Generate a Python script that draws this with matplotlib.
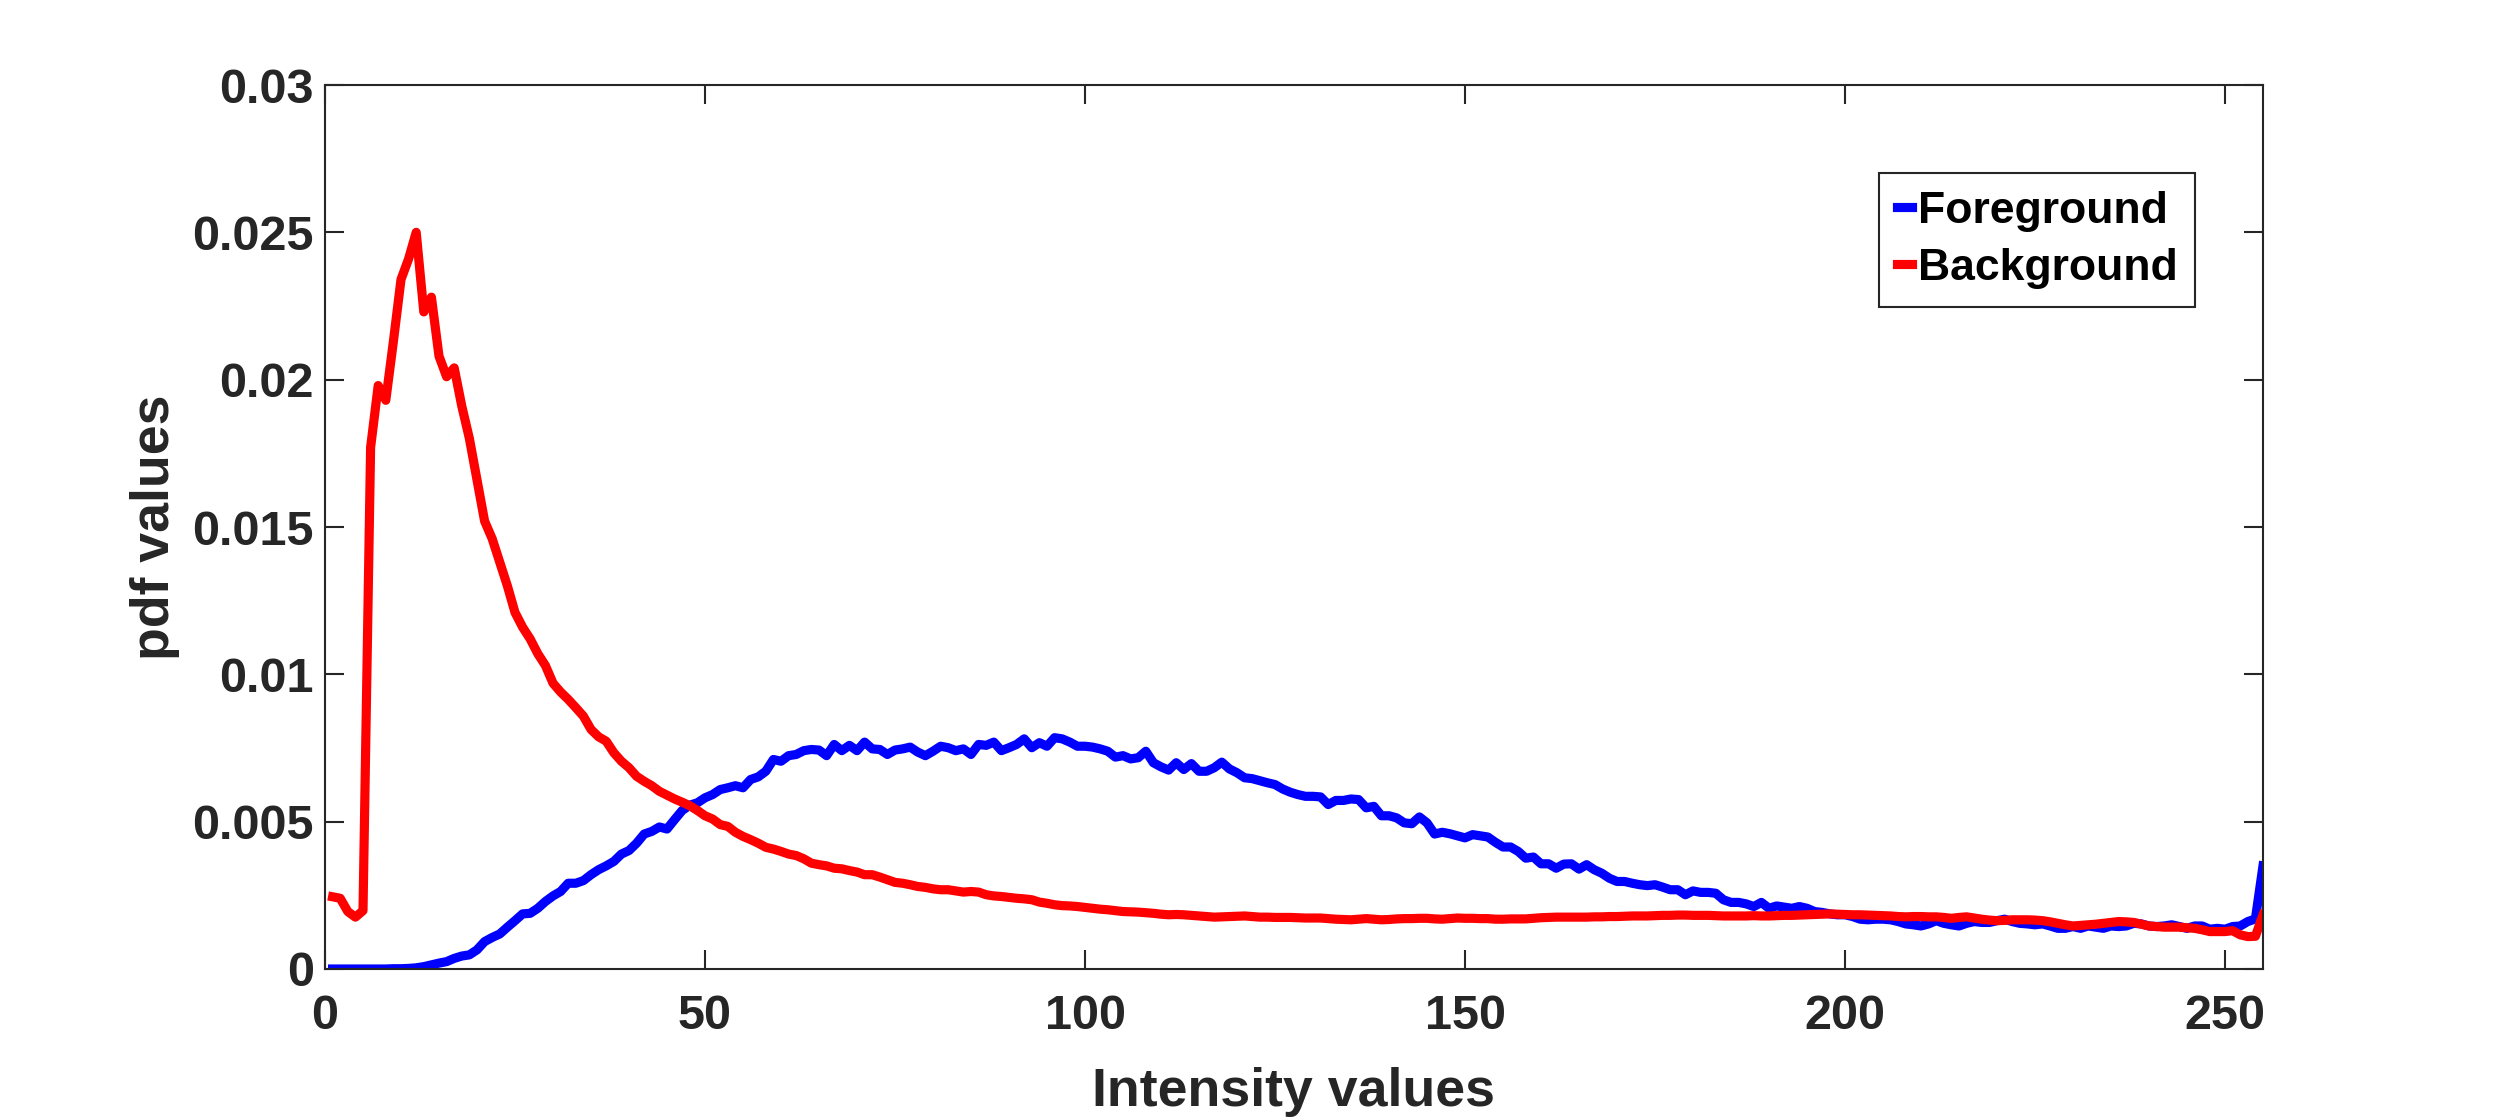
import numpy as np
import matplotlib
matplotlib.use("Agg")
import matplotlib.pyplot as plt
import matplotlib.ticker as mticker

# intensity bins
intensity = np.arange(1, 256)

foreground = [
    0, 0, 0, 0, 0, 0, 0, 0, 0.00001, 0.00001,
    0.00002, 0.00004, 0.00008, 0.00014, 0.0002, 0.00025, 0.00036, 0.00044, 0.00048, 0.00065,
    0.00093, 0.00107, 0.00119, 0.00142, 0.00164, 0.00187, 0.00189, 0.00206, 0.00229, 0.00248,
    0.00263, 0.00291, 0.00291, 0.003, 0.0032, 0.00337, 0.0035, 0.00365, 0.0039, 0.00402,
    0.00427, 0.00458, 0.00467, 0.00482, 0.00475, 0.00507, 0.00538, 0.00556, 0.00564, 0.00581,
    0.00592, 0.00609, 0.00615, 0.00622, 0.00615, 0.00643, 0.00652, 0.00671, 0.00711, 0.00705,
    0.00724, 0.00728, 0.00741, 0.00745, 0.00743, 0.00724, 0.00762, 0.00741, 0.00759, 0.00741,
    0.0077, 0.00747, 0.00745, 0.00728, 0.00743, 0.00747, 0.00753, 0.00736, 0.00724, 0.00739,
    0.00756, 0.00751, 0.00741, 0.00747, 0.00728, 0.00762, 0.00759, 0.0077, 0.00741, 0.00751,
    0.00762, 0.00781, 0.00751, 0.00768, 0.00756, 0.00785, 0.00781, 0.0077, 0.00756, 0.00756,
    0.00753, 0.00747, 0.00739, 0.00719, 0.00724, 0.00713, 0.00717, 0.00739, 0.007, 0.00686,
    0.00675, 0.007, 0.00677, 0.00697, 0.00671, 0.00671, 0.00683, 0.00702, 0.00679, 0.00666,
    0.00649, 0.00646, 0.00639, 0.00632, 0.00626, 0.00611, 0.006, 0.00592, 0.00586, 0.00586,
    0.00584, 0.00558, 0.00572, 0.00572, 0.00577, 0.00575, 0.00547, 0.00552, 0.0052, 0.0052,
    0.00513, 0.00496, 0.00493, 0.00516, 0.00496, 0.00458, 0.00464, 0.00459, 0.00452, 0.00445,
    0.00456, 0.00452, 0.00448, 0.0043, 0.00414, 0.00414, 0.00399, 0.00376, 0.0038, 0.00357,
    0.00357, 0.00342, 0.00356, 0.00357, 0.00339, 0.00354, 0.00337, 0.00325, 0.00308, 0.00297,
    0.00297, 0.00291, 0.00286, 0.00283, 0.00286, 0.00278, 0.00269, 0.00269, 0.00252, 0.00265,
    0.0026, 0.0026, 0.00257, 0.00235, 0.00226, 0.00226, 0.00221, 0.00212, 0.00226, 0.00206,
    0.00214, 0.0021, 0.00206, 0.00212, 0.00206, 0.00195, 0.00192, 0.00187, 0.00184, 0.00184,
    0.00178, 0.00169, 0.00167, 0.00169, 0.00169, 0.00167, 0.00161, 0.00153, 0.0015, 0.00146,
    0.00153, 0.00164, 0.00155, 0.0015, 0.00146, 0.00155, 0.00161, 0.00158, 0.00158, 0.00164,
    0.00169, 0.00161, 0.00155, 0.00153, 0.0015, 0.00153, 0.00146, 0.00138, 0.00138, 0.00144,
    0.00138, 0.00146, 0.00142, 0.00138, 0.00146, 0.00144, 0.00146, 0.00155, 0.00153, 0.00146,
    0.00144, 0.00146, 0.0015, 0.00144, 0.00138, 0.00146, 0.00146, 0.00135, 0.00138, 0.00135,
    0.00144, 0.00146, 0.00161, 0.0017, 0.0035,
]

background = [
    0.00245, 0.0024, 0.00195, 0.00176, 0.00198, 0.0177, 0.0198, 0.0193, 0.0213, 0.0234,
    0.0241, 0.0250, 0.0223, 0.0228, 0.0208, 0.0201, 0.0204, 0.0191, 0.0180, 0.0166,
    0.0152, 0.0146, 0.0138, 0.0130, 0.0121, 0.0116, 0.0112, 0.0107, 0.0103, 0.0097,
    0.0094, 0.00915, 0.00887, 0.00858, 0.00813, 0.00788, 0.00773, 0.00734, 0.00705, 0.00683,
    0.00654, 0.00637, 0.00622, 0.00603, 0.0059, 0.00577, 0.00566, 0.00554, 0.00538, 0.0052,
    0.00509, 0.0049, 0.00484, 0.00464, 0.0045, 0.00439, 0.00427, 0.00413, 0.00407, 0.00399,
    0.0039, 0.00385, 0.00374, 0.00359, 0.00354, 0.0035, 0.00342, 0.0034, 0.00334, 0.00329,
    0.0032, 0.0032, 0.00312, 0.00303, 0.00294, 0.00291, 0.00286, 0.0028, 0.00277, 0.00272,
    0.00269, 0.00269, 0.00265, 0.00261, 0.00263, 0.00261, 0.00252, 0.00248, 0.00246, 0.00243,
    0.0024, 0.00238, 0.00235, 0.00227, 0.00223, 0.00218, 0.00215, 0.00214, 0.00212, 0.00209,
    0.00206, 0.00203, 0.00201, 0.00198, 0.00195, 0.00194, 0.00193, 0.00191, 0.00189, 0.00186,
    0.00184, 0.00185, 0.00184, 0.00182, 0.0018, 0.00178, 0.00176, 0.00177, 0.00178, 0.00179,
    0.0018, 0.00178, 0.00176, 0.00176, 0.00175, 0.00175, 0.00175, 0.00174, 0.00173, 0.00173,
    0.00173, 0.00171, 0.00169, 0.00168, 0.00167, 0.00169, 0.00171, 0.00169, 0.00167, 0.00168,
    0.0017, 0.00171, 0.00171, 0.00172, 0.00172, 0.0017, 0.00169, 0.00171, 0.00173, 0.00172,
    0.00172, 0.00171, 0.00171, 0.00169, 0.00169, 0.0017, 0.0017, 0.0017, 0.00172, 0.00174,
    0.00175, 0.00176, 0.00176, 0.00176, 0.00176, 0.00176, 0.00177, 0.00177, 0.00178, 0.00178,
    0.00179, 0.0018, 0.0018, 0.0018, 0.00181, 0.00182, 0.00182, 0.00183, 0.00183, 0.00182,
    0.00182, 0.00182, 0.00181, 0.0018, 0.0018, 0.0018, 0.0018, 0.00181, 0.0018, 0.0018,
    0.00181, 0.00182, 0.00182, 0.00183, 0.00184, 0.00185, 0.00186, 0.00187, 0.00186, 0.00185,
    0.00184, 0.00184, 0.00183, 0.00182, 0.00181, 0.0018, 0.00178, 0.00177, 0.00178, 0.00178,
    0.00177, 0.00177, 0.00175, 0.00172, 0.00175, 0.00177, 0.00173, 0.00169, 0.00166, 0.00164,
    0.00165, 0.00167, 0.00167, 0.00167, 0.00166, 0.00164, 0.0016, 0.00155, 0.0015, 0.00146,
    0.00148, 0.0015, 0.00152, 0.00155, 0.00158, 0.00161, 0.0016, 0.00158, 0.00152, 0.00146,
    0.00144, 0.00142, 0.00142, 0.00142, 0.0014, 0.00138, 0.00133, 0.00127, 0.00127, 0.00127,
    0.0013, 0.00116, 0.0011, 0.00111, 0.00184,
]

x_ticks = [0, 50, 100, 150, 200, 250]
y_ticks = [0, 0.005, 0.01, 0.015, 0.02, 0.025, 0.03]

plt.rcParams.update({
    "font.family": ["Liberation Sans", "DejaVu Sans"],
    "font.weight": "bold",
    "axes.linewidth": 0.75,
    "axes.edgecolor": "#262626",
    "xtick.color": "#262626",
    "ytick.color": "#262626",
})

fig = plt.figure(figsize=(12.5, 5.585), dpi=200)
ax = fig.add_axes([0.13, 0.1325, 0.7752, 0.7914])

ax.plot(intensity, foreground, color="#0000ff", linewidth=3.3, label="Foreground")
ax.plot(intensity, background, color="#ff0000", linewidth=3.3, label="Background")

ax.set_xlim(0, 255)
ax.set_ylim(0, 0.03)
ax.set_xticks(x_ticks)
ax.set_yticks(y_ticks)
ax.yaxis.set_major_formatter(mticker.FuncFormatter(lambda v, p: "%g" % v))

ax.tick_params(direction="in", length=7, width=0.75, top=True, right=True,
               labelsize=17.5)
ax.tick_params(axis="x", pad=9)
ax.tick_params(axis="y", pad=4)
for lab in ax.get_xticklabels() + ax.get_yticklabels():
    lab.set_fontweight("bold")

ax.set_xlabel("Intensity values", fontsize=19.3, fontweight="bold", color="#262626", labelpad=10)
ax.set_ylabel("pdf values", fontsize=19.3, fontweight="bold", color="#262626", labelpad=4.5)

leg = ax.legend(loc="upper right", bbox_to_anchor=(0.965, 0.9005), fontsize=16,
                handlelength=0.35, handletextpad=0.12, borderpad=0.4, labelspacing=0.36,
                borderaxespad=0, fancybox=False, framealpha=1)
leg.get_frame().set_edgecolor("#262626")
leg.get_frame().set_linewidth(0.75)
for t in leg.get_texts():
    t.set_fontweight("bold")

fig.savefig("out.png", dpi=200)
